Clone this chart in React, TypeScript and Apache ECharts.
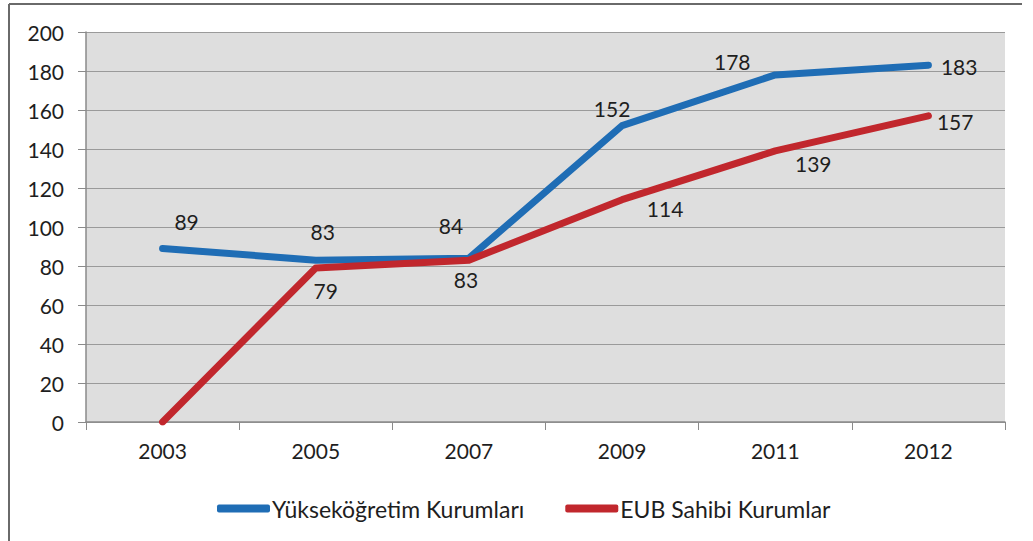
import React, { useEffect, useRef } from "react";
import * as echarts from "echarts";

const years = ["2003", "2005", "2007", "2009", "2011", "2012"];
const yuksekogretim = [89, 83, 84, 152, 178, 183];
const eub = [0, 79, 83, 114, 139, 157];

const blueOffsets: [number, number][] = [[24, -4], [7, -6], [-18, -10], [-10, 6], [-43, 10], [0, 1]];
const redOffsets: [number, number][] = [[0, 0], [10, 2], [-3, -2], [43, -12], [38, -8], [0, 6]];

export default function App() {
  const ref = useRef<HTMLDivElement>(null);
  useEffect(() => {
    document.body.style.margin = "0";
    const chart = echarts.init(ref.current!, null, { renderer: "svg" });
    const font = "Lato, 'Open Sans', sans-serif";
    const txt = "#1e1e1e";
    const fs = 21;
    chart.setOption({
      animation: false,
      backgroundColor: "#ffffff",
      textStyle: { fontFamily: font },
      grid: { left: 86, right: 28, top: 32, bottom: 119, show: true, backgroundColor: "#dedede", borderWidth: 0 },
      graphic: [
        { type: "line", shape: { x1: 9, y1: 4, x2: 1022, y2: 4 }, style: { stroke: "#6a6a6a", lineWidth: 2 } },
        { type: "line", shape: { x1: 9, y1: 4, x2: 9, y2: 541 }, style: { stroke: "#6a6a6a", lineWidth: 2 } },
      ],
      legend: {
        top: 492,
        left: 212,
        itemGap: 41,
        itemWidth: 53,
        itemHeight: 8,
        icon: "roundRect",
        textStyle: { fontSize: 23, color: txt, fontFamily: font, padding: [0, 0, 0, -3] },
        data: ["Yükseköğretim Kurumları", "EUB Sahibi Kurumlar"],
      },
      xAxis: {
        type: "category",
        data: years,
        boundaryGap: true,
        axisLine: { lineStyle: { color: "#8a8a8a", width: 1.5 } },
        axisTick: { show: true, length: 8, lineStyle: { color: "#8a8a8a" } },
        axisLabel: { fontSize: fs, color: txt, margin: 18, fontFamily: font },
      },
      yAxis: {
        type: "value",
        min: 0,
        max: 200,
        interval: 20,
        axisLine: { show: true, lineStyle: { color: "#8a8a8a", width: 1.5 } },
        axisTick: { show: true, length: 8, lineStyle: { color: "#8a8a8a" } },
        axisLabel: { fontSize: fs, color: txt, margin: 22, fontFamily: font },
        splitLine: { lineStyle: { color: "#9a9a9a", width: 1.2 } },
      },
      series: [
        {
          name: "Yükseköğretim Kurumları",
          type: "line",
          data: yuksekogretim.map((v, i) => ({
            value: v,
            label: {
              show: true,
              position: i === 5 ? "right" : "top",
              offset: blueOffsets[i],
              distance: i === 5 ? 12 : 12,
            },
          })),
          color: "#1f6db5",
          symbol: "circle",
          symbolSize: 1,
          showAllSymbol: true,
          itemStyle: { color: "#1f6db5" },
          lineStyle: { width: 7, color: "#1f6db5", cap: "round", join: "round" },
          label: { show: true, fontSize: fs, color: txt, fontFamily: font },
          z: 3,
        },
        {
          name: "EUB Sahibi Kurumlar",
          type: "line",
          data: eub.map((v, i) => ({
            value: v,
            label: {
              show: v !== 0,
              position: i === 5 ? "right" : "bottom",
              offset: redOffsets[i],
              distance: i === 5 ? 8 : 10,
            },
          })),
          color: "#c1272d",
          symbol: "circle",
          symbolSize: 1,
          showAllSymbol: true,
          itemStyle: { color: "#c1272d" },
          lineStyle: { width: 7, color: "#c1272d", cap: "round", join: "round" },
          label: { show: true, fontSize: fs, color: txt, fontFamily: font },
          z: 4,
        },
      ],
    });
    return () => chart.dispose();
  }, []);
  return <div ref={ref} style={{ width: 1033, height: 541 }} />;
}
